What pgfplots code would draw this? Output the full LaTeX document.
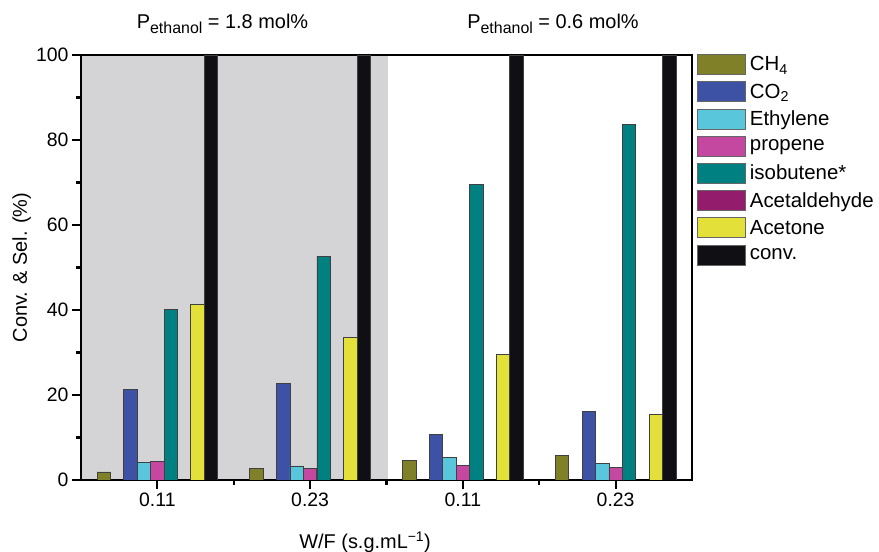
\documentclass[border=0pt]{standalone}
\usepackage{pgfplots}
\pgfplotsset{compat=1.18}
\usepackage{fontspec}
\setmainfont{Liberation Sans}

\definecolor{cch}{RGB}{128,128,40}
\definecolor{cco}{RGB}{61,82,165}
\definecolor{cet}{RGB}{90,198,220}
\definecolor{cpr}{RGB}{196,72,160}
\definecolor{cib}{RGB}{0,128,128}
\definecolor{cac}{RGB}{148,28,108}
\definecolor{cat}{RGB}{228,224,58}
\definecolor{ccv}{RGB}{16,16,20}
\definecolor{bggray}{RGB}{212,212,214}

\pgfplotsset{set layers,
  bb/.style={ybar,bar width=0.0878,draw=black!75,line width=0.7bp}}

\begin{document}
\begin{tikzpicture}[font=\fontsize{20}{24}\selectfont]
\begin{axis}[at={(0,0)},anchor=south west,scale only axis,width=611bp,height=425bp,
  xmin=-0.5,xmax=3.5,ymin=0,ymax=100,
  xtick={0,1,2,3},xticklabels={0.11,0.23,0.11,0.23},minor xtick={0.5,1.5,2.5},
  ytick={0,20,...,100},minor ytick={10,30,50,70,90},
  tick align=outside,tick pos=left,
  major tick length=9bp,minor tick length=5bp,
  every tick/.style={black,line width=2.2bp},
  axis line style={line width=2.4bp},
  tick label style={font=\fontsize{19.5}{23}\selectfont},
  /pgf/number format/assume math mode=true,
  ylabel={Conv. \& Sel. (\%)},
  ylabel style={at={(axis description cs:-0.097,0.5)},anchor=center,rotate=0},
  xlabel={W/F (s.g.mL\textsuperscript{−1})},
  xlabel style={at={(axis description cs:0.465,-0.146)},anchor=center},
  legend style={at={(axis description cs:1,1)},anchor=north west,xshift=5bp,yshift=1bp,
    draw=none,fill=none,inner sep=0pt,row sep=6.5bp,column sep=4bp,
    font=\fontsize{20.5}{24}\selectfont,
    cells={anchor=west},nodes={inner sep=0pt}},
  legend image code/.code={\draw[#1,draw=black!60] (0bp,-10bp) rectangle (48bp,10bp);},
  clip mode=individual]
\begin{pgfonlayer}{axis background}
\fill[bggray] (axis cs:-0.5,0) rectangle (axis cs:1.51,100);
\end{pgfonlayer}
\addplot[bb,bar shift=-0.351,fill=cch] coordinates {(0,1.9) (1,2.7) (2,4.7) (3,5.7)};
\addlegendentry{CH\textsubscript{4}}
\addplot[bb,bar shift=-0.176,fill=cco] coordinates {(0,21.3) (1,22.7) (2,10.8) (3,16.1)};
\addlegendentry{CO\textsubscript{2}}
\addplot[bb,bar shift=-0.088,fill=cet] coordinates {(0,4.1) (1,3.3) (2,5.3) (3,3.9)};
\addlegendentry{Ethylene}
\addplot[bb,bar shift=0,fill=cpr] coordinates {(0,4.3) (1,2.7) (2,3.5) (3,2.9)};
\addlegendentry{propene}
\addplot[bb,bar shift=0.088,fill=cib] coordinates {(0,40.2) (1,52.7) (2,69.6) (3,83.7)};
\addlegendentry{isobutene*}
\addplot[bb,bar shift=0.176,fill=cac,draw=none] coordinates {(0,0) (1,0) (2,0) (3,0)};
\addlegendentry{Acetaldehyde}
\addplot[bb,bar shift=0.263,fill=cat] coordinates {(0,41.3) (1,33.5) (2,29.6) (3,15.5)};
\addlegendentry{Acetone}
\addplot[bb,bar shift=0.351,fill=ccv] coordinates {(0,100) (1,100) (2,100) (3,100)};
\addlegendentry{conv.}
\node[anchor=base] at (axis description cs:0.2316,1.0635) {P\raisebox{-5bp}{\fontsize{16}{18}\selectfont ethanol} = 1.8 mol\%};
\node[anchor=base] at (axis description cs:0.7725,1.0635) {P\raisebox{-5bp}{\fontsize{16}{18}\selectfont ethanol} = 0.6 mol\%};
\end{axis}
\pgfresetboundingbox
\path[use as bounding box] (-81bp,-72bp) rectangle (798bp,480bp);
\end{tikzpicture}
\end{document}
